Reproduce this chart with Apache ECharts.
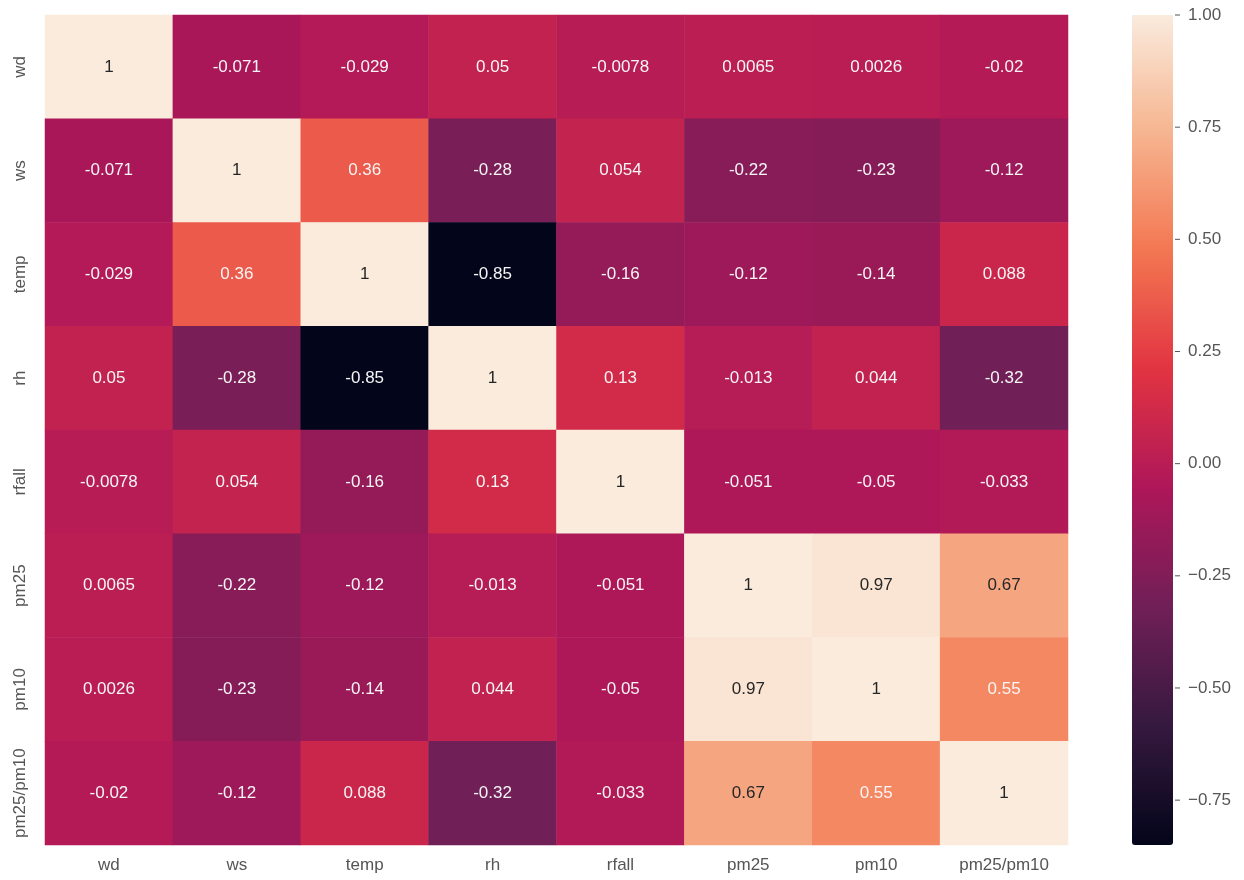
<!DOCTYPE html>
<html>
<head>
<meta charset="utf-8">
<script src="https://cdn.jsdelivr.net/npm/echarts@6/dist/echarts.min.js"></script>
<style>
  html, body { margin: 0; padding: 0; background: #fff; }
  #chart { width: 1244px; height: 880px; }
</style>
</head>
<body>
<div id="chart"></div>
<script>
// variable names, same order on both axes
const labels = ['wd', 'ws', 'temp', 'rh', 'rfall', 'pm25', 'pm10', 'pm25/pm10']

// correlation rows (as printed in the cells)
const rowWd = [1, -0.071, -0.029, 0.05, -0.0078, 0.0065, 0.0026, -0.02]
const rowWs = [-0.071, 1, 0.36, -0.28, 0.054, -0.22, -0.23, -0.12]
const rowTemp = [-0.029, 0.36, 1, -0.85, -0.16, -0.12, -0.14, 0.088]
const rowRh = [0.05, -0.28, -0.85, 1, 0.13, -0.013, 0.044, -0.32]
const rowRfall = [-0.0078, 0.054, -0.16, 0.13, 1, -0.051, -0.05, -0.033]
const rowPm25 = [0.0065, -0.22, -0.12, -0.013, -0.051, 1, 0.97, 0.67]
const rowPm10 = [0.0026, -0.23, -0.14, 0.044, -0.05, 0.97, 1, 0.55]
const rowRatio = [-0.02, -0.12, 0.088, -0.32, -0.033, 0.67, 0.55, 1]

// colorbar ticks
const barTicks = [-0.75, -0.5, -0.25, 0, 0.25, 0.5, 0.75, 1]

const rows = [rowWd, rowWs, rowTemp, rowRh, rowRfall, rowPm25, rowPm10, rowRatio]
const vMin = -0.85
const vMax = 1

// seaborn "rocket"
const rocket = ['#03051a', '#35193e', '#701f57', '#ad1759', '#e13342', '#f37651', '#f6b48f', '#faebdd']

const cells = []
rows.forEach((row, yi) => {
  row.forEach((v, xi) => {
    cells.push({
      value: [xi, yi, v],
      label: { color: v > 0.6 ? '#262626' : '#f5f5f5' }
    })
  })
})

const fontFam = '"Liberation Sans", Arial, sans-serif'
const axisGray = '#555'
const chart = echarts.init(document.getElementById('chart'))

chart.setOption({
  backgroundColor: '#fff',
  animation: false,
  textStyle: { fontFamily: fontFam },
  grid: [
    { left: 45, top: 15, width: 1023, height: 830 },
    { left: 1132, top: 15, width: 41, height: 830 }
  ],
  xAxis: [
    {
      type: 'category',
      gridIndex: 0,
      data: labels,
      axisLine: { show: false },
      axisTick: { show: false },
      splitLine: { show: false },
      axisLabel: { color: axisGray, fontSize: 17, margin: 12, interval: 0, fontFamily: fontFam }
    },
    {
      type: 'value',
      gridIndex: 1,
      show: false,
      min: 0,
      max: 1
    }
  ],
  yAxis: [
    {
      type: 'category',
      gridIndex: 0,
      data: labels,
      inverse: true,
      axisLine: { show: false },
      axisTick: { show: false },
      splitLine: { show: false },
      axisLabel: { color: axisGray, fontSize: 17, rotate: 90, margin: 16, interval: 0, fontFamily: fontFam }
    },
    {
      type: 'value',
      gridIndex: 1,
      position: 'right',
      min: vMin,
      max: vMax,
      axisLine: { show: false },
      splitLine: { show: false },
      axisTick: { show: false },
      axisLabel: {
        color: axisGray,
        fontSize: 17,
        margin: 2,
        fontFamily: fontFam,
        customValues: barTicks,
        // draw the short tick mark in front of each label
        formatter: v => '{t|}{g|}' + v.toFixed(2).replace('-', '\u2212'),
        rich: {
          t: { width: 5, height: 1, backgroundColor: axisGray },
          g: { width: 8 }
        }
      }
    }
  ],
  visualMap: {
    type: 'continuous',
    seriesIndex: 0,
    dimension: 2,
    min: vMin,
    max: vMax,
    calculable: false,
    left: 1132,
    top: 15,
    itemWidth: 41,
    itemHeight: 830,
    padding: 0,
    text: null,
    showLabel: false,
    inRange: { color: rocket }
  },
  series: [
    {
      type: 'heatmap',
      xAxisIndex: 0,
      yAxisIndex: 0,
      data: cells,
      label: {
        show: true,
        fontSize: 17,
        fontFamily: fontFam,
        formatter: p => String(p.value[2])
      },
      emphasis: { disabled: true }
    }
  ]
})
</script>
</body>
</html>
